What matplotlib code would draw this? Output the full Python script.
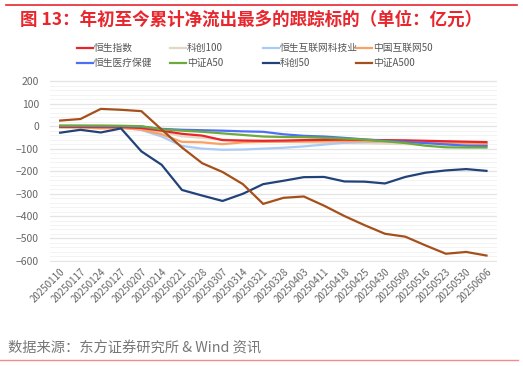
import matplotlib
matplotlib.use("Agg")
import matplotlib.pyplot as plt
from matplotlib.lines import Line2D
import numpy as np

plt.rcParams["font.family"] = ["Noto Sans CJK SC", "DejaVu Sans"]

dates = [
    "20250110", "20250117", "20250124", "20250127", "20250207", "20250214",
    "20250221", "20250228", "20250307", "20250314", "20250321", "20250328",
    "20250403", "20250411", "20250418", "20250425", "20250430", "20250509",
    "20250516", "20250523", "20250530", "20250606",
]

hsi = [-3, -3, -4, -4, -8, -20, -34, -42, -62, -64, -65, -64,
       -62, -61, -60, -61, -62, -63, -65, -67, -69, -71]
star100 = [-5, -5, -6, -6, -10, -25, -45, -52, -60, -65, -68, -70,
           -72, -74, -75, -76, -78, -80, -81, -82, -83, -84]
hs_tech = [-4, -4, -5, -6, -17, -46, -88, -100, -105, -104, -100, -96,
           -90, -82, -74, -70, -68, -70, -72, -74, -76, -78]
china_net50 = [-5, -6, -10, -8, -15, -36, -70, -72, -80, -72, -70, -69,
               -68, -67, -67, -67, -68, -70, -72, -75, -78, -80]
hs_health = [1, 1, 0, 0, -2, -12, -16, -18, -20, -23, -25, -36,
             -43, -46, -52, -59, -65, -70, -75, -81, -87, -88]
csi_a50 = [3, 3, 3, 2, 0, -14, -20, -25, -32, -39, -46, -48,
           -49, -52, -55, -60, -67, -75, -87, -94, -95, -95]
star50 = [-29, -16, -28, -10, -112, -172, -284, -309, -333, -301, -258, -243,
          -227, -226, -246, -247, -255, -226, -207, -197, -191, -199]
csi_a500 = [25, 32, 77, 73, 67, -15, -95, -165, -204, -258, -346, -319,
            -313, -354, -400, -441, -479, -492, -531, -568, -560, -576]

names = ["恒生指数", "科创100", "恒生互联网科技业", "中国互联网50",
         "恒生医疗保健", "中证A50", "科创50", "中证A500"]
series = [hsi, star100, hs_tech, china_net50, hs_health, csi_a50, star50, csi_a500]
colors = ["#e8252a", "#e3d8c3", "#a9cbf5", "#f9a263",
          "#4d6ff5", "#6aab3c", "#22427a", "#a5501a"]
# draw order so the cluster looks like the reference
draw_order = [1, 2, 3, 0, 4, 5, 6, 7]

fig = plt.figure(figsize=(5.23, 3.66), dpi=100)
ax = fig.add_axes([0.0956, 0.284, 0.854, 0.497])

x = np.arange(len(dates))
for i in draw_order:
    ax.plot(x, series[i], color=colors[i], lw=1.6, solid_joinstyle="round", zorder=3)

ax.set_xlim(-0.5, len(dates) - 0.5)
ax.set_ylim(-605, 205)
ax.set_yticks(np.arange(-600, 201, 100))
ax.set_yticks(np.arange(-600, 201, 20), minor=True)
ax.yaxis.grid(True, which="major", color="#e4e4e4", lw=0.9)
ax.yaxis.grid(True, which="minor", color="#f3f3f3", lw=0.7)
ax.set_axisbelow(True)
ax.tick_params(axis="y", which="both", length=0, labelsize=7.5, labelcolor="#666666", pad=8)
ax.set_xticks(x)
ax.set_xticklabels(dates, rotation=45, ha="right", rotation_mode="anchor",
                   fontsize=7, color="#666666")
ax.tick_params(axis="x", length=0, pad=3)
for s in ax.spines.values():
    s.set_visible(False)

# legend: 2 rows x 4 columns, row-major, fixed column spacing
col_x = [0.147, 0.325, 0.503, 0.681]
row_y = [0.868, 0.828]
for k, name in enumerate(names):
    r, c = divmod(k, 4)
    x0 = col_x[c]
    y0 = row_y[r]
    fig.add_artist(Line2D([x0, x0 + 0.03], [y0, y0], color=colors[k], lw=1.6))
    fig.text(x0 + 0.032, y0, name, fontsize=7, color="#555555", va="center")

fig.text(0.038, 0.945, "图 13：年初至今累计净流出最多的跟踪标的（单位：亿元）",
         fontsize=12.6, fontweight="bold", color="#e8262d", va="center")
fig.add_artist(Line2D([0.012, 0.988], [0.985, 0.985], color="#e8262d", lw=1.2))
fig.text(0.015, 0.048, "数据来源：东方证券研究所 & Wind 资讯",
         fontsize=10.3, color="#777777", va="center")
fig.add_artist(Line2D([0.0, 0.99], [0.016, 0.016], color="#f08c8c", lw=1.0))

fig.savefig("out.png", dpi=100)
